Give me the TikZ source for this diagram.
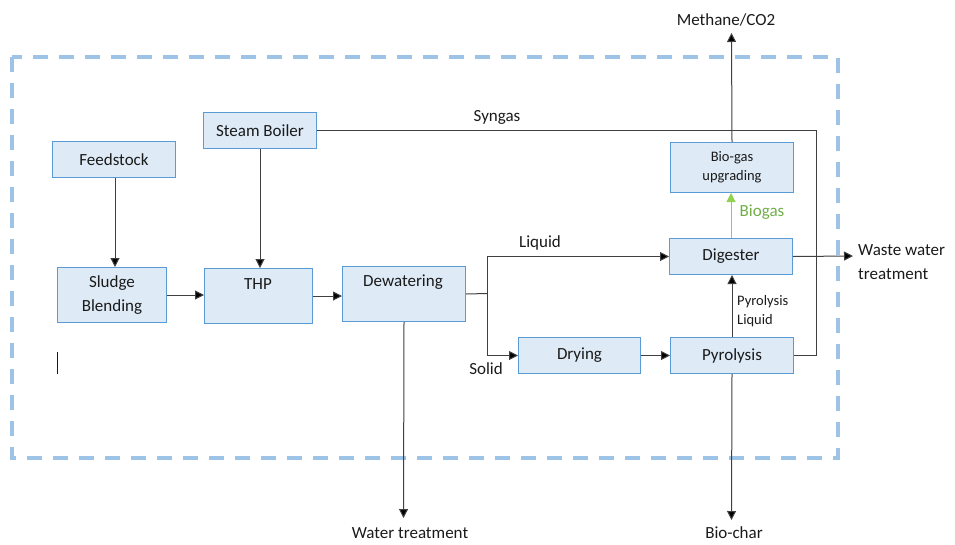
\documentclass[tikz,border=0pt]{standalone}
\usepackage{fontspec}
\setmainfont{Carlito}
\usetikzlibrary{arrows.meta}
\definecolor{boxfill}{HTML}{DEEBF7}
\definecolor{boxline}{HTML}{5B9BD5}
\definecolor{frameblue}{HTML}{9DC3E6}
\definecolor{flow}{HTML}{404040}
\definecolor{gasgreen}{HTML}{92D050}
\definecolor{gastext}{HTML}{70AD47}
\definecolor{ink}{HTML}{1A1A1A}

\tikzset{
  stage/.style={draw=boxline, fill=boxfill, line width=1pt, inner sep=0pt, anchor=north west},
  flowline/.style={draw=flow, line width=1pt},
  flowarrow/.style={flowline, -{Triangle[length=9pt,width=9pt,fill=black]}},
  txt/.style={font=\fontsize{17}{24}\selectfont, inner sep=0pt, text=ink},
  smalltxt/.style={font=\fontsize{14.5}{19}\selectfont, inner sep=0pt, text=ink},
}

\begin{document}
\begin{tikzpicture}[x=1pt, y=-1pt]
  \path[use as bounding box] (0,0) rectangle (955,544);

  % system boundary
  \draw[frameblue, line width=3.2pt, dash pattern=on 15pt off 11pt] (12,57) rectangle (838,458);

  % process stages
  \node[stage, minimum width=123pt, minimum height=36pt] (feed)   at (52,141)  {};
  \node[stage, minimum width=113pt, minimum height=36pt] (boiler) at (203,112) {};
  \node[stage, minimum width=109pt, minimum height=55pt] (blend)  at (57,267)  {};
  \node[stage, minimum width=108pt, minimum height=55pt] (thp)    at (204,268) {};
  \node[stage, minimum width=123pt, minimum height=55pt] (dew)    at (342,266) {};
  \node[stage, minimum width=123pt, minimum height=50pt] (upg)    at (670,142) {};
  \node[stage, minimum width=123pt, minimum height=36pt] (dig)    at (669,238) {};
  \node[stage, minimum width=122pt, minimum height=36pt] (dry)    at (518,337) {};
  \node[stage, minimum width=123pt, minimum height=36pt] (pyro)   at (670,337) {};

  % stage titles
  \node[txt] (feedT)   at (feed.center)   {Feedstock};
  \node[txt] (boilerT) at (boiler.center) {Steam Boiler};
  \node[txt, align=center] (blendT) at (blend.center) {Sludge\\Blending};
  \node[txt] (thpT)    at (258,284)       {THP};
  \node[txt] (dewT)    at (403,282)       {Dewatering};
  \node[smalltxt, align=center] (upgT) at (upg.center) {Bio-gas\\upgrading};
  \node[txt] (digT)    at (dig.center)    {Digester};
  \node[txt] (dryT)    at (dry.center)    {Drying};
  \node[txt] (pyroT)   at (pyro.center)   {Pyrolysis};

  % outlet end points
  \coordinate (methane) at (731.5,33);
  \coordinate (waste)   at (853,256);
  \coordinate (water)   at (403.5,518);
  \coordinate (char)    at (731.5,520);
  \coordinate (split)   at (487,293.5);
  \coordinate (loop)    at (816,0);

  % main flow
  \draw[flowarrow] (feed.south -| 115,0) -- (blend.north -| 115,0);
  \draw[flowarrow] (boiler.south) -- (boiler.south |- thp.north);
  \draw[flowarrow] (blend.east) -- (blend.east -| thp.west);
  \draw[flowarrow] (thp.east) -- (thp.east -| dew.west);
  \draw[flowline]  (dew.east) -- (split);
  \draw[flowarrow] (split) |- (dig.west);
  \draw[flowarrow] (split) |- (dry.west);
  \draw[flowarrow] (dry.east) -- (dry.east -| pyro.west);
  \draw[flowarrow] (pyro.north) -- (pyro.north |- dig.south);
  \draw[draw=gasgreen, line width=1pt, -{Triangle[length=9pt,width=9pt]}] (dig.north) -- (dig.north |- upg.south);
  \draw[flowarrow] (upg.north) -- (methane);
  \draw[flowline]  (pyro.east) -| (loop |- boiler.east) -- (boiler.east);
  \draw[flowarrow] (dig.east) -- (waste);
  \draw[flowarrow] (dew.south) -- (water);
  \draw[flowarrow] (pyro.south) -- (char);

  % stream labels
  \node[txt] (syngasL)  at (497,117) {Syngas};
  \node[txt] (liquidL)  at (540,243) {Liquid};
  \node[txt] (solidL)   at (486,369) {Solid};
  \node[txt, text=gastext] (biogasL) at (762,212) {Biogas};
  \node[smalltxt, anchor=west, align=left] (pyliqL) at (737,311) {Pyrolysis\\Liquid};
  \node[txt] (methaneL) at (726,20)  {Methane/CO2};
  \node[txt, anchor=west, align=left] (wasteL) at (858,262) {Waste water\\treatment};
  \node[txt] (waterL)   at (410,533) {Water treatment};
  \node[txt] (charL)    at (734,533) {Bio-char};

  % stray text cursor mark
  \draw[line width=0.8pt, ink] (57,352) -- (57,374);
\end{tikzpicture}
\end{document}
